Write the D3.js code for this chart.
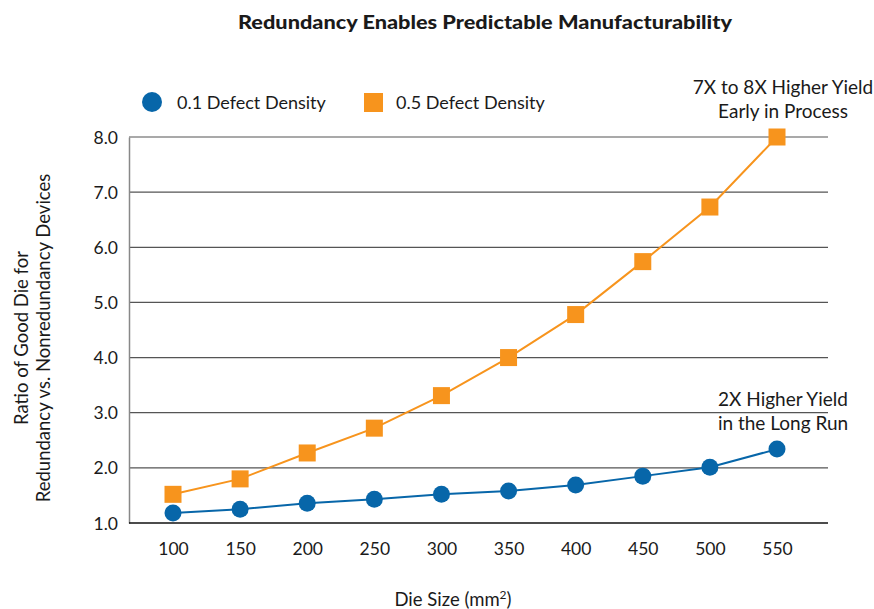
<!DOCTYPE html>
<html>
<head>
<meta charset="utf-8">
<script src="https://cdn.jsdelivr.net/npm/d3@7"></script>
<style>
  html, body { margin: 0; padding: 0; background: #fff; }
  svg text { font-family: "Lato", "Open Sans", sans-serif; fill: #1a1a1a; }
</style>
</head>
<body>
<svg id="chart" width="874" height="609"></svg>
<script>
// Die size categories (mm²)
const dieSizes = [100, 150, 200, 250, 300, 350, 400, 450, 500, 550];
// Ratio of good die, redundancy vs. nonredundancy
const lowDefect = [1.18, 1.25, 1.36, 1.43, 1.52, 1.58, 1.69, 1.85, 2.01, 2.34];
const highDefect = [1.52, 1.80, 2.27, 2.72, 3.31, 4.00, 4.78, 5.74, 6.73, 8.00];
const yTicks = [1, 2, 3, 4, 5, 6, 7, 8];
const seriesNames = ["0.1 Defect Density", "0.5 Defect Density"];

const blue = "#0766a9";
const orange = "#f7941d";

const svg = d3.select("#chart");
const plotLeft = 129, plotRight = 828, plotTop = 137, plotBottom = 523;

const x = d3.scaleLinear().domain([100, 550]).range([173, 777]);
const y = d3.scaleLinear().domain([1, 8]).range([plotBottom, plotTop]);

// Title
svg.append("text")
  .attr("x", 485).attr("y", 29)
  .attr("text-anchor", "middle")
  .attr("textLength", 494).attr("lengthAdjust", "spacingAndGlyphs")
  .style("font-weight", "900").style("font-size", "18px")
  .text("Redundancy Enables Predictable Manufacturability");

// Horizontal grid lines
svg.append("g")
  .selectAll("line")
  .data(yTicks.filter(d => d > 1))
  .join("line")
  .attr("x1", plotLeft).attr("x2", plotRight)
  .attr("y1", d => y(d)).attr("y2", d => y(d))
  .attr("stroke", "#555").attr("stroke-width", 1.2);

// Y axis
const yAxis = svg.append("g")
  .attr("transform", `translate(${plotLeft},0)`)
  .call(d3.axisLeft(y).tickValues(yTicks).tickFormat(d3.format(".1f")).tickSize(0).tickPadding(11));
yAxis.select(".domain").attr("stroke", "#888").attr("stroke-width", 1.5);
yAxis.selectAll("text").style("font-size", "17.5px").attr("dy", "0.35em");

// X axis (baseline)
const xAxis = svg.append("g")
  .attr("transform", `translate(0,${plotBottom})`)
  .call(d3.axisBottom(x).tickValues(dieSizes).tickFormat(d3.format("d")).tickSize(0).tickPadding(20));
xAxis.select(".domain").remove();
xAxis.selectAll("text").style("font-size", "17.5px");
svg.append("line")
  .attr("x1", plotLeft).attr("x2", plotRight)
  .attr("y1", plotBottom).attr("y2", plotBottom)
  .attr("stroke", "#111").attr("stroke-width", 1.5);

const line = d3.line().x((d, i) => x(dieSizes[i])).y(d => y(d));

// 0.5 defect density series
svg.append("path").datum(highDefect)
  .attr("d", line).attr("fill", "none")
  .attr("stroke", orange).attr("stroke-width", 2);
svg.append("g").selectAll("rect").data(highDefect).join("rect")
  .attr("x", (d, i) => x(dieSizes[i]) - 8.5)
  .attr("y", d => y(d) - 8.5)
  .attr("width", 17).attr("height", 17)
  .attr("fill", orange);

// 0.1 defect density series
svg.append("path").datum(lowDefect)
  .attr("d", line).attr("fill", "none")
  .attr("stroke", blue).attr("stroke-width", 2);
svg.append("g").selectAll("circle").data(lowDefect).join("circle")
  .attr("cx", (d, i) => x(dieSizes[i]))
  .attr("cy", d => y(d))
  .attr("r", 8.5)
  .attr("fill", blue);

// Legend
svg.append("circle").attr("cx", 152).attr("cy", 102).attr("r", 10).attr("fill", blue);
svg.append("text").attr("x", 177).attr("y", 109)
  .style("font-size", "18px").text(seriesNames[0]);
svg.append("rect").attr("x", 364).attr("y", 93).attr("width", 19).attr("height", 19).attr("fill", orange);
svg.append("text").attr("x", 396).attr("y", 109)
  .style("font-size", "18px").text(seriesNames[1]);

// Annotations
const note = (cx, lines, y0) => {
  svg.append("text")
    .attr("text-anchor", "middle")
    .style("font-size", "19px")
    .selectAll("tspan").data(lines).join("tspan")
    .attr("x", cx).attr("y", (d, i) => y0 + i * 24)
    .text(d => d);
};
note(783, ["7X to 8X Higher Yield", "Early in Process"], 94);
note(783, ["2X Higher Yield", "in the Long Run"], 406);

// Axis titles
svg.append("text")
  .attr("transform", "translate(28,338) rotate(-90)")
  .attr("text-anchor", "middle")
  .style("font-size", "18.5px")
  .selectAll("tspan").data(["Ratio of Good Die for", "Redundancy vs. Nonredundancy Devices"]).join("tspan")
  .attr("x", 0).attr("y", (d, i) => i * 22)
  .text(d => d);

const xt = svg.append("text")
  .attr("x", 453).attr("y", 606)
  .attr("text-anchor", "middle")
  .style("font-size", "18.5px");
xt.append("tspan").text("Die Size (mm");
xt.append("tspan").attr("dy", -7).style("font-size", "12px").text("2");
xt.append("tspan").attr("dy", 7).text(")");
</script>
</body>
</html>
